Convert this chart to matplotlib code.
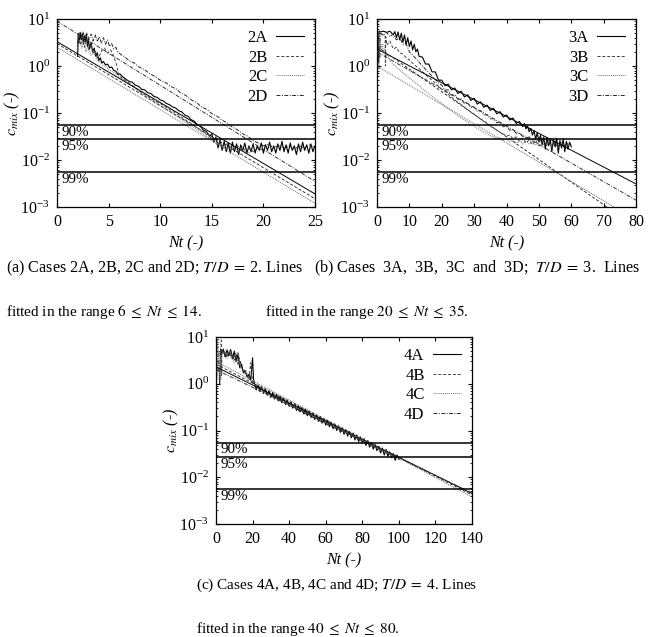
import matplotlib
matplotlib.use("Agg")
import matplotlib.pyplot as plt
import numpy as np

plt.rcParams['font.family'] = ['Liberation Serif', 'DejaVu Serif']
plt.rcParams['mathtext.fontset'] = 'stix'

# ---------------- data: panel (a), T/D = 2 ----------------
LABELS_A = ['2A', '2B', '2C', '2D']
TRACE_2A = [(2.0,1.6),(2.05,4.8),(2.15,3.1),(2.25,5.2),(2.35,3.6),(2.45,4.9),(2.55,2.9),(2.65,4.4),(2.75,3.3),(2.85,4.6),
            (2.95,2.6),(3.05,3.7),(3.15,2.3),(3.3,3.1),(3.45,2.0),(3.6,2.4),(3.75,1.6),(3.9,1.9),(4.05,1.3),(4.2,1.5),
            (4.35,1.15),(4.5,1.25),(4.7,1.05),(4.9,1.1),(5.1,0.92),(5.3,0.95),(5.5,0.8),(5.7,0.78),(5.9,0.66),(6.1,0.68),
            (6.4,0.58),(6.7,0.52),(7.0,0.47),(7.3,0.45),(7.6,0.39),(7.9,0.37),(8.2,0.32),(8.5,0.31),(8.8,0.27),(9.1,0.26),
            (9.4,0.225),(9.7,0.215),(10.0,0.19),(10.3,0.18),(10.6,0.16),(10.9,0.15),(11.2,0.135),(11.5,0.128),(11.8,0.112),
            (12.1,0.105),(12.4,0.09),(12.7,0.085),(13.0,0.072),(13.3,0.067),(13.6,0.056),(13.9,0.052),(14.2,0.043),(14.5,0.04),
            (14.8,0.032),(15.0,0.036),(15.2,0.024),(15.4,0.031),(15.6,0.018),(15.8,0.027),(16.0,0.016),(16.2,0.025),(16.4,0.015),
            (16.6,0.023),(16.8,0.014),(17.0,0.024),(17.2,0.015),(17.4,0.022),(17.6,0.013),(17.8,0.021),(18.0,0.016),(18.2,0.023),
            (18.4,0.014),(18.6,0.02),(18.8,0.015),(19.0,0.022),(19.2,0.014),(19.4,0.02),(19.6,0.016),(19.8,0.023),(20.0,0.014),
            (20.2,0.021),(20.4,0.016),(20.6,0.024),(20.8,0.015),(21.0,0.02),(21.2,0.014),(21.4,0.022),(21.6,0.016),(21.8,0.025),
            (22.0,0.015),(22.2,0.021),(22.4,0.014),(22.6,0.023),(22.8,0.016),(23.0,0.02),(23.2,0.013),(23.4,0.022),(23.6,0.015),
            (23.8,0.024),(24.0,0.016),(24.2,0.021),(24.4,0.014),(24.6,0.022),(24.8,0.015),(25.0,0.02)]
TRACE_2B = [(2.0,2.0),(2.1,4.2),(2.3,2.8),(2.5,4.5),(2.7,2.5),(2.9,3.8),(3.1,2.2),(3.3,2.9),(3.5,1.8),(3.7,2.2),(3.9,1.5),
            (4.1,1.6),(4.3,2.1),(4.6,2.4),(4.9,1.9),(5.2,2.2),(5.5,1.6),(5.8,1.0),(6.0,0.62),(6.3,0.56),(6.6,0.5),(7.0,0.43),
            (7.5,0.36),(8.0,0.29),(8.5,0.25),(9.0,0.21),(9.5,0.18),(10.0,0.16),(10.5,0.135),(11.0,0.115),(11.5,0.1),(12.0,0.083),
            (12.5,0.07),(13.0,0.06),(13.5,0.05),(14.0,0.042),(14.5,0.035),(15.0,0.029),(15.5,0.024),(16.0,0.02),(16.5,0.022),
            (17.0,0.017),(17.5,0.02),(18.0,0.016),(18.5,0.019),(19.0,0.015),(19.5,0.018),(20.0,0.016)]
TRACE_2C = [(2.0,2.5),(2.2,3.6),(2.4,2.4),(2.6,3.2),(2.8,2.0),(3.0,2.6),(3.3,1.7),(3.6,1.9),(3.9,1.3),(4.2,1.2),(4.5,1.0),
            (4.8,0.95),(5.1,0.82),(5.5,0.72),(6.0,0.6),(6.5,0.5),(7.0,0.41),(7.5,0.35),(8.0,0.28),(8.5,0.24),(9.0,0.2),
            (9.5,0.17),(10.0,0.145),(10.5,0.12),(11.0,0.105),(11.5,0.088),(12.0,0.075),(12.5,0.063),(13.0,0.053),(13.5,0.045),
            (14.0,0.038),(14.5,0.032),(15.0,0.027),(15.5,0.023),(16.0,0.019),(16.5,0.017),(17.0,0.019),(17.5,0.015),(18.0,0.017),
            (18.5,0.014),(19.0,0.016)]
TRACE_2D = [(2.0,3.0),(2.1,5.0),(2.3,3.8),(2.5,5.3),(2.7,4.0),(2.9,5.1),(3.1,3.6),(3.3,4.8),(3.5,3.4),(3.7,4.6),(3.9,3.3),
            (4.1,4.2),(4.3,3.1),(4.5,4.0),(4.7,2.9),(4.9,3.6),(5.1,2.6),(5.3,3.0),(5.5,2.3),(5.7,2.5),(5.9,2.0),(6.2,1.75),
            (6.5,1.6),(7.0,1.3),(7.5,1.15),(8.0,0.94),(8.5,0.83),(9.0,0.68),(9.5,0.6),(10.0,0.5),(10.5,0.45),(11.0,0.37),
            (11.5,0.33),(12.0,0.265),(12.5,0.235),(13.0,0.19),(13.5,0.168),(14.0,0.135),(14.5,0.12),(15.0,0.097),(15.5,0.086),
            (16.0,0.07),(16.5,0.062),(17.0,0.05),(17.5,0.044),(18.0,0.036),(18.5,0.032),(19.0,0.026),(19.5,0.023),(20.0,0.02),
            (20.5,0.022),(21.0,0.018),(21.5,0.021),(22.0,0.018),(22.5,0.02),(23.0,0.017),(23.5,0.02),(24.0,0.018),(24.5,0.021),
            (25.0,0.018)]
FIT_X_A = [0, 25]
FIT_2A = [3.3, 0.0019]
FIT_2B = [3.0, 0.0015]
FIT_2C = [2.5, 0.0012]
FIT_2D = [9.0, 0.0035]

# ---------------- data: panel (b), T/D = 3 ----------------
LABELS_B = ['3A', '3B', '3C', '3D']
TRACE_3A = [(0.5,1.2),(0.6,5.5),(1,5.3),(2,5.5),(3,5.2),(4,5.5),(5,4.6),(5.5,5.4),(6,4.0),(6.5,5.3),(7,3.6),(7.5,5.0),
            (8,3.2),(8.5,4.6),(9,2.8),(9.5,4.0),(10,2.6),(10.5,3.4),(11,2.2),(11.5,2.9),(12,2.0),(12.5,2.3),(13,1.6),(14,1.55),
            (15,1.1),(16,1.1),(17,0.75),(18,0.75),(19,0.5),(20,0.5),(21,0.38),(22,0.41),(23,0.31),(24,0.34),(25,0.26),
            (26,0.29),(27,0.22),(28,0.245),(29,0.185),(30,0.205),(31,0.155),(32,0.173),(33,0.132),(34,0.147),(35,0.113),
            (36,0.126),(37,0.096),(38,0.107),(39,0.082),(40,0.091),(41,0.071),(42,0.078),(43,0.06),(44,0.066),(45,0.051),
            (45.5,0.06),(46,0.046),(46.5,0.053),(47,0.04),(47.5,0.047),(48,0.034),(48.5,0.042),(49,0.028),(49.5,0.038),
            (50,0.025),(50.5,0.034),(51,0.021),(51.5,0.031),(52,0.017),(52.5,0.03),(53,0.02),(53.5,0.028),(54,0.015),
            (54.5,0.027),(55,0.019),(55.5,0.029),(56,0.014),(56.5,0.026),(57,0.018),(57.5,0.028),(58,0.015),(58.5,0.025),
            (59,0.017),(59.5,0.024),(60,0.019)]
TRACE_3B = [(0.3,1.0),(0.35,4.6),(2.5,4.6),(2.6,1.0),(2.7,4.2),(3,2.8),(4,3.4),(5,2.3),(6,2.5),(7,1.9),(8,1.8),(9,1.5),
            (10,1.35),(11,1.15),(12,1.0),(13,0.88),(14,0.76),(15,0.66),(16,0.57),(17,0.5),(18,0.43),(19,0.37),(20,0.32),
            (21,0.29),(22,0.25),(23,0.22),(24,0.19),(25,0.17),(26,0.15),(27,0.133),(28,0.118),(29,0.104),(30,0.093),
            (31,0.083),(32,0.074),(33,0.066),(34,0.059),(35,0.053),(36,0.048),(37,0.043),(38,0.039),(39,0.036),(40,0.032),
            (41,0.034),(42,0.028),(43,0.031),(44,0.025),(45,0.029),(46,0.023),(47,0.027),(48,0.021),(49,0.026),(50,0.02),
            (51,0.025),(52,0.019),(53,0.024),(54,0.018),(55,0.023),(56,0.018),(57,0.022),(58,0.019)]
TRACE_3C = [(0.7,0.9),(0.8,3.5),(1.2,2.4),(1.6,3.0),(2,2.0),(2.5,2.3),(3,1.6),(3.5,1.7),(4,1.3),(5,1.1),(6,0.95),(7,0.82),
            (8,0.72),(9,0.63),(10,0.55),(11,0.49),(12,0.43),(13,0.38),(14,0.33),(15,0.29),(16,0.26),(17,0.23),(18,0.2),
            (19,0.18),(20,0.16),(21,0.14),(22,0.125),(23,0.11),(24,0.1),(25,0.088),(26,0.079),(27,0.071),(28,0.064),
            (29,0.057),(30,0.052),(31,0.047),(32,0.043),(33,0.039),(34,0.036),(35,0.033),(36,0.031),(37,0.028),(38,0.03),
            (39,0.026),(40,0.028),(41,0.024),(42,0.027),(43,0.023),(44,0.026),(45,0.022),(46,0.025),(47,0.022),(48,0.024),
            (49,0.021),(50,0.023)]
TRACE_3D = [(0.9,1.5),(1.0,5.0),(2,4.6),(3,5.2),(4,4.2),(5,4.8),(6,3.6),(7,4.0),(8,2.9),(9,3.0),(10,2.0),(11,1.7),
            (12,1.45),(13,1.2),(14,1.0),(15,0.85),(16,0.72),(17,0.61),(18,0.52),(19,0.43),(20,0.39),(21,0.31),(22,0.31),
            (23,0.24),(24,0.245),(25,0.195),(26,0.2),(27,0.16),(28,0.165),(29,0.13),(30,0.135),(31,0.108),(32,0.112),
            (33,0.09),(34,0.092),(35,0.075),(36,0.076),(37,0.062),(38,0.063),(39,0.051),(40,0.052),(41,0.043),(42,0.044),
            (43,0.037),(44,0.037),(45,0.032),(46,0.029),(47,0.031),(48,0.026),(49,0.029),(50,0.024),(51,0.028),(52,0.022),
            (53,0.026),(54,0.021),(55,0.025),(56,0.02),(57,0.024),(58,0.02),(59,0.023),(60,0.021)]
FIT_X_B = [0, 80]
FIT_3A = [2.3, 0.0031]
FIT_3B = [2.6, 0.00037]
FIT_3C = [1.0, 0.00053]
FIT_3D = [2.0, 0.0014]

# ---------------- data: panel (c), T/D = 4 ----------------
LABELS_C = ['4A', '4B', '4C', '4D']
TRACE_4A = [(2,1.0),(2.5,5.5),(3,4.5),(4,5.5),(5,3.8),(6,5.3),(7,4.0),(8,5.4),(9,3.5),(10,5.0),(11,3.0),(12,4.2),
            (13,2.2),(14,2.6),(15,1.7),(16,1.9),(17,1.4),(18,1.6),(19,1.2),(20,3.6),(20.5,1.3),(21,1.02),(22,0.74),(23,0.94),
            (24,0.68),(25,0.86),(26,0.62),(27,0.78),(28,0.57),(29,0.71),(30,0.51),(31,0.65),(32,0.47),(33,0.59),(34,0.43),
            (35,0.54),(36,0.39),(37,0.49),(38,0.36),(39,0.45),(40,0.33),(41,0.41),(42,0.3),(43,0.375),(44,0.27),(45,0.34),
            (46,0.25),(47,0.31),(48,0.226),(49,0.285),(50,0.207),(51,0.26),(52,0.189),(53,0.238),(54,0.172),(55,0.217),
            (56,0.157),(57,0.199),(58,0.144),(59,0.181),(60,0.131),(61,0.166),(62,0.12),(63,0.151),(64,0.109),(65,0.138),
            (66,0.1),(67,0.126),(68,0.091),(69,0.115),(70,0.083),(71,0.105),(72,0.076),(73,0.096),(74,0.07),(75,0.088),
            (76,0.063),(77,0.08),(78,0.058),(79,0.073),(80,0.053),(81,0.067),(82,0.048),(83,0.061),(84,0.044),(85,0.055),
            (86,0.04),(87,0.05),(88,0.037),(89,0.046),(90,0.033),(91,0.042),(92,0.03),(93,0.039),(94,0.028),(95,0.035),
            (96,0.026),(97,0.032),(98,0.023),(99,0.03),(100,0.024)]
TRACE_4B = [(0.5,1.5),(0.6,8.6),(3.0,8.6),(3.1,1.5),(3.2,4.5),(4,5.2),(6,3.9),(8,5.0),(10,3.2),(12,4.6),(14,2.2),(16,1.9),
            (18,1.3),(19,2.8),(20,1.1),(22,0.9),(24,0.82),(26,0.7),(28,0.64),(30,0.56),(32,0.53),(34,0.46),(36,0.44),
            (38,0.38),(40,0.37),(42,0.32),(44,0.31),(46,0.27),(48,0.26),(50,0.22),(52,0.215),(54,0.185),(56,0.18),
            (58,0.155),(60,0.15),(62,0.13),(64,0.126),(66,0.11),(68,0.106),(70,0.092),(72,0.088),(74,0.077),(76,0.074),
            (78,0.064),(80,0.062),(82,0.053),(84,0.052),(86,0.045),(88,0.043),(90,0.038),(92,0.036),(94,0.032),(96,0.031),
            (98,0.028)]
TRACE_4C = [(1.0,1.2),(1.1,7.5),(2.5,7.5),(2.6,1.2),(2.7,4.0),(4,4.8),(6,3.5),(8,4.4),(10,2.8),(12,3.4),(14,2.0),(16,1.7),
            (18,1.25),(20,1.05),(22,0.88),(24,0.8),(26,0.7),(28,0.62),(30,0.57),(32,0.51),(34,0.47),(36,0.42),(38,0.4),
            (40,0.35),(42,0.33),(44,0.29),(46,0.28),(48,0.245),(50,0.235),(52,0.205),(54,0.195),(56,0.17),(58,0.165),
            (60,0.145),(62,0.138),(64,0.122),(66,0.116),(68,0.103),(70,0.097),(72,0.086),(74,0.081),(76,0.072),(78,0.068),
            (80,0.06),(82,0.056),(84,0.05),(86,0.047),(88,0.042),(90,0.039),(92,0.035),(94,0.033),(96,0.03)]
TRACE_4D = [(1.5,1.8),(1.6,5.0),(3,4.2),(4,5.3),(5,3.6),(7,4.8),(9,3.3),(11,4.5),(12,2.6),(13,3.2),(15,1.8),(17,1.5),
            (19,1.15),(21,0.97),(23,0.86),(25,0.76),(27,0.69),(29,0.6),(31,0.55),(33,0.49),(35,0.45),(37,0.4),(39,0.37),
            (41,0.33),(43,0.31),(45,0.27),(47,0.255),(49,0.225),(51,0.215),(53,0.19),(55,0.178),(57,0.158),(59,0.15),
            (61,0.132),(63,0.126),(65,0.112),(67,0.106),(69,0.094),(71,0.089),(73,0.079),(75,0.075),(77,0.066),(79,0.063),
            (81,0.056),(83,0.053),(85,0.047),(87,0.045),(89,0.04),(91,0.038),(93,0.034),(95,0.032),(97,0.029),(99,0.028)]
FIT_X_C = [0, 140]
FIT_4A = [2.3, 0.0045]
FIT_4B = [2.6, 0.0042]
FIT_4C = [3.0, 0.0038]
FIT_4D = [2.0, 0.0046]

# threshold levels (90 %, 95 %, 99 % homogeneity)
LEVELS = [0.055, 0.0275, 0.0055]
LEVEL_LABELS = ['90%', '95%', '99%']

XTICKS_A = [0, 5, 10, 15, 20, 25]
XTICKS_B = [0, 10, 20, 30, 40, 50, 60, 70, 80]
XTICKS_C = [0, 20, 40, 60, 80, 100, 120, 140]

CAPTION_A1 = r'(a) Cases 2A, 2B, 2C and 2D; $T/D\;=\;$2. Lines'
CAPTION_A2 = r'fitted in the range $6\;\leq\;Nt\;\leq\;14$.'
CAPTION_B1 = r'(b) Cases  3A,  3B,  3C  and  3D;  $T/D\;=\;$3.  Lines'
CAPTION_B2 = r'fitted in the range $20\;\leq\;Nt\;\leq\;35$.'
CAPTION_C1 = r'(c) Cases 4A, 4B, 4C and 4D; $T/D\;=\;$4. Lines'
CAPTION_C2 = r'fitted in the range $40\;\leq\;Nt\;\leq\;80$.'

# ---------------- styles ----------------
STYLES = [dict(ls='-', color='k', lw=0.8),
          dict(ls=(0, (3, 2)), color='0.25', lw=0.7),
          dict(ls=(0, (1, 1)), color='0.45', lw=0.7),
          dict(ls=(0, (4, 1.5, 1, 1.5)), color='0.15', lw=0.7)]
FIT_STYLES = [dict(ls='-', color='k', lw=0.7),
              dict(ls=(0, (3, 2)), color='0.2', lw=0.7),
              dict(ls=(0, (1, 1)), color='0.4', lw=0.7),
              dict(ls=(0, (4, 1.5, 1, 1.5)), color='0.2', lw=0.7)]

fig = plt.figure(figsize=(6.49, 6.37), dpi=100)
W, H = 649.0, 637.0


def make_axes(x0, x1, y0, y1):
    return fig.add_axes([x0 / W, 1 - y1 / H, (x1 - x0) / W, (y1 - y0) / H])


def draw_panel(ax, traces, fits, fit_x, labels, xlim, xticks):
    for tr, st, lab in zip(traces, STYLES, labels):
        xs = [p[0] for p in tr]
        ys = [p[1] for p in tr]
        ax.plot(xs, ys, label=lab, **st)
    for ft, st in zip(fits, FIT_STYLES):
        ax.plot(fit_x, ft, **st)
    for lv, lt in zip(LEVELS, LEVEL_LABELS):
        ax.axhline(lv, color='k', lw=1.1)
        ax.text(0.018, lv * 0.96, lt, transform=ax.get_yaxis_transform(),
                va='top', ha='left', fontsize=10.8)
    ax.set_yscale('log')
    ax.set_ylim(1e-3, 1e1)
    ax.set_xlim(*xlim)
    ax.set_xticks(xticks)
    ax.tick_params(which='both', direction='in', top=True, right=True, labelsize=11.5)
    ax.tick_params(which='major', length=3, pad=5)
    ax.tick_params(which='minor', length=1.5)
    ax.set_ylabel(r'$c_{mix}$ (-)', fontsize=11.5, fontstyle='italic', labelpad=-1)
    ax.set_xlabel('Nt (-)', fontsize=11.5, fontstyle='italic', labelpad=4)
    for s in ax.spines.values():
        s.set_linewidth(0.9)
    ax.legend(loc='upper right', frameon=False, markerfirst=False, handlelength=1.7,
              handletextpad=0.5, labelspacing=0.22, fontsize=12, borderaxespad=0.25)


axa = make_axes(57, 315, 19, 207)
draw_panel(axa, [TRACE_2A, TRACE_2B, TRACE_2C, TRACE_2D], [FIT_2A, FIT_2B, FIT_2C, FIT_2D],
           FIT_X_A, LABELS_A, (0, 25), XTICKS_A)
axb = make_axes(377, 636, 19, 207)
draw_panel(axb, [TRACE_3A, TRACE_3B, TRACE_3C, TRACE_3D], [FIT_3A, FIT_3B, FIT_3C, FIT_3D],
           FIT_X_B, LABELS_B, (0, 80), XTICKS_B)
axc = make_axes(216, 472, 337, 524)
draw_panel(axc, [TRACE_4A, TRACE_4B, TRACE_4C, TRACE_4D], [FIT_4A, FIT_4B, FIT_4C, FIT_4D],
           FIT_X_C, LABELS_C, (0, 140), XTICKS_C)

fig.text(6 / W, 1 - 268 / H, CAPTION_A1, fontsize=11.6, va='center', ha='left')
fig.text(314 / W, 1 - 268 / H, CAPTION_B1, fontsize=11.6, va='center', ha='left')
fig.text(6 / W, 1 - 312 / H, CAPTION_A2, fontsize=11, va='center', ha='left')
fig.text(265 / W, 1 - 312 / H, CAPTION_B2, fontsize=11, va='center', ha='left')
fig.text(196 / W, 1 - 585 / H, CAPTION_C1, fontsize=11, va='center', ha='left')
fig.text(196 / W, 1 - 629 / H, CAPTION_C2, fontsize=11, va='center', ha='left')

fig.savefig('out.png', dpi=100)
